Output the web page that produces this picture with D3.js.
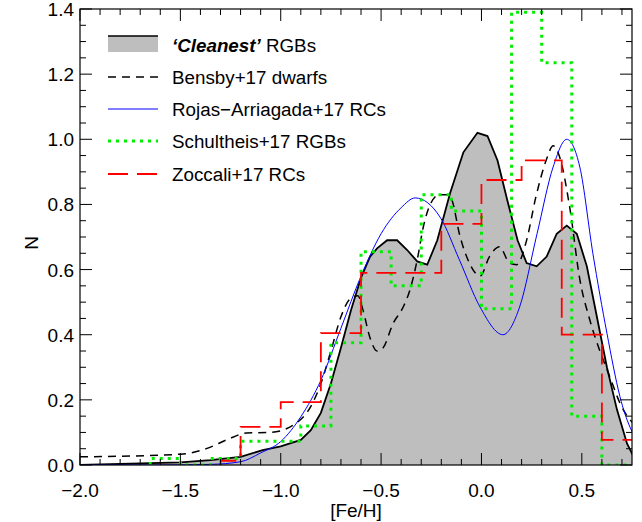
<!DOCTYPE html>
<html><head><meta charset="utf-8">
<script src="https://cdn.jsdelivr.net/npm/d3@7"></script>
<style>body{margin:0;background:#fff}text{font-family:"Liberation Sans",Arial,sans-serif}</style>
</head><body><div id="chart"></div>
<script>
var w=642,h=522;
var margin={l:80,r:10,t:9,b:57};

// 'Cleanest' RGBs (filled)
var cleanX=[-2.0,-1.5,-1.35,-1.2,-1.09,-1.0,-0.9,-0.85,-0.8,-0.75,-0.7,-0.65,-0.6,-0.555,-0.52,-0.47,-0.42,-0.37,-0.32,-0.27,-0.22,-0.156,-0.09,-0.02,0.03,0.08,0.13,0.18,0.225,0.275,0.325,0.375,0.425,0.475,0.525,0.575,0.625,0.675,0.725,0.775];
var cleanY=[0.0,0.008,0.015,0.025,0.046,0.057,0.077,0.107,0.16,0.25,0.36,0.475,0.575,0.64,0.665,0.69,0.69,0.66,0.625,0.615,0.69,0.835,0.96,1.02,1.01,0.935,0.81,0.69,0.62,0.61,0.64,0.71,0.735,0.71,0.61,0.455,0.30,0.17,0.066,0.005];
// Bensby+17 dwarfs
var bensX=[-2.0,-1.5,-1.35,-1.27,-1.17,-1.05,-0.92,-0.85,-0.8,-0.75,-0.7,-0.655,-0.615,-0.59,-0.555,-0.52,-0.49,-0.44,-0.39,-0.355,-0.32,-0.29,-0.255,-0.21,-0.16,-0.145,-0.11,-0.06,-0.007,0.04,0.09,0.14,0.175,0.225,0.27,0.325,0.357,0.39,0.44,0.49,0.54,0.59,0.64,0.69,0.79];
var bensY=[0.025,0.033,0.055,0.077,0.098,0.1,0.13,0.18,0.25,0.35,0.455,0.51,0.52,0.475,0.39,0.35,0.36,0.435,0.485,0.54,0.63,0.73,0.80,0.83,0.83,0.81,0.71,0.62,0.58,0.64,0.67,0.62,0.615,0.69,0.82,0.94,0.98,0.945,0.79,0.57,0.445,0.35,0.27,0.19,0.107];
// Rojas-Arriagada+17 RCs
var rojasX=[-2.0,-1.6,-1.35,-1.2,-1.1,-1.0,-0.9,-0.8,-0.7,-0.6,-0.5,-0.4,-0.33,-0.205,-0.11,-0.007,0.107,0.19,0.277,0.357,0.425,0.49,0.555,0.625,0.69,0.79];
var rojasY=[0.0,0.0,0.002,0.01,0.037,0.072,0.148,0.26,0.42,0.58,0.71,0.79,0.82,0.76,0.63,0.485,0.40,0.485,0.71,0.915,1.0,0.915,0.65,0.405,0.21,0.056];
// Schultheis+17 RGBs histogram (bin edges, values)
var schEdges=[-1.65,-1.5,-1.35,-1.2,-1.05,-0.9,-0.75,-0.6,-0.45,-0.3,-0.15,0.0,0.15,0.3,0.45,0.6,0.75];
var schVals=[0.02,0.0,0.02,0.073,0.073,0.12,0.375,0.655,0.55,0.83,0.78,0.48,1.39,1.235,0.15,0.0];
// Zoccali+17 RCs histogram
var zocEdges=[-1.3,-1.2,-1.0,-0.8,-0.6,-0.4,-0.2,0.0,0.2,0.4,0.6,0.8];
var zocVals=[0.013,0.117,0.193,0.405,0.59,0.59,0.74,0.875,0.935,0.40,0.077];

var xTicks=[-2.0,-1.5,-1.0,-0.5,0.0,0.5];
var yTicks=[0.0,0.2,0.4,0.6,0.8,1.0,1.2,1.4];

var svg=d3.select("#chart").append("svg").attr("width",w).attr("height",h);
var x=d3.scaleLinear().domain([-2.0,0.75]).range([margin.l,w-margin.r]);
var y=d3.scaleLinear().domain([0,1.4]).range([h-margin.b,margin.t]);

svg.append("defs").append("clipPath").attr("id","clip").append("rect")
  .attr("x",x(-2)).attr("y",y(1.4)).attr("width",x(0.75)-x(-2)).attr("height",y(0)-y(1.4));
var g=svg.append("g").attr("clip-path","url(#clip)");

function pts(xs,ys){return xs.map(function(d,i){return [d,ys[i]];});}
function steps(e,v){var p=[];v.forEach(function(d,i){p.push([e[i],d]);p.push([e[i+1],d]);});return p;}
function stepPath(e,v){var p=steps(e,v);p.unshift([e[0],0]);p.push([e[e.length-1],0]);return p;}

var line=d3.line().x(function(d){return x(d[0]);}).y(function(d){return y(d[1]);});
var smooth=d3.line().x(function(d){return x(d[0]);}).y(function(d){return y(d[1]);}).curve(d3.curveMonotoneX);
var area=d3.area().x(function(d){return x(d[0]);}).y0(y(0)).y1(function(d){return y(d[1]);});

var clean=pts(cleanX,cleanY);
g.append("path").attr("d",area(clean)).attr("fill","#bebebe");
g.append("path").attr("d",line(clean)).attr("fill","none").attr("stroke","#000").attr("stroke-width",1.8);
g.append("path").attr("d",smooth(pts(bensX,bensY))).attr("fill","none").attr("stroke","#000").attr("stroke-width",1.5).attr("stroke-dasharray","8,6");
g.append("path").attr("d",smooth(pts(rojasX,rojasY))).attr("fill","none").attr("stroke","#0000ff").attr("stroke-width",1);
g.append("path").attr("d",line(stepPath(schEdges,schVals))).attr("fill","none").attr("stroke","#00ee00").attr("stroke-width",3).attr("stroke-dasharray","3,5");
g.append("path").attr("d",line(stepPath(zocEdges,zocVals))).attr("fill","none").attr("stroke","#ff0000").attr("stroke-width",1.8).attr("stroke-dasharray","20,9");

// frame
svg.append("rect").attr("x",x(-2)).attr("y",y(1.4)).attr("width",x(0.75)-x(-2)).attr("height",y(0)-y(1.4))
  .attr("fill","none").attr("stroke","#000").attr("stroke-width",1.2);

// ticks on all sides
var tk=svg.append("g").attr("stroke","#000").attr("stroke-width",1);
d3.range(-2.0,0.751,0.1).forEach(function(v){
  var major=xTicks.some(function(t){return Math.abs(t-v)<1e-6;}), L=major?12:6;
  tk.append("line").attr("x1",x(v)).attr("x2",x(v)).attr("y1",y(0)).attr("y2",y(0)-L);
  tk.append("line").attr("x1",x(v)).attr("x2",x(v)).attr("y1",y(1.4)).attr("y2",y(1.4)+L);
});
d3.range(0,1.401,0.05).forEach(function(v){
  var major=yTicks.some(function(t){return Math.abs(t-v)<1e-6;}), L=major?12:6;
  tk.append("line").attr("y1",y(v)).attr("y2",y(v)).attr("x1",x(-2)).attr("x2",x(-2)+L);
  tk.append("line").attr("y1",y(v)).attr("y2",y(v)).attr("x1",x(0.75)).attr("x2",x(0.75)-L);
});
function fmt(v){return (v<0?"\u2212":"")+Math.abs(v).toFixed(1);}
svg.selectAll(".xt").data(xTicks).enter().append("text").attr("x",function(d){return x(d);}).attr("y",h-margin.b+32)
  .attr("text-anchor","middle").attr("font-size",19).text(fmt);
svg.selectAll(".yt").data(yTicks).enter().append("text").attr("x",x(-2)-6).attr("y",function(d){return y(d)+7;})
  .attr("text-anchor","end").attr("font-size",19).text(fmt);
svg.append("text").attr("x",(x(-2)+x(0.75))/2).attr("y",h-5).attr("text-anchor","middle").attr("font-size",19).text("[Fe/H]");
svg.append("text").attr("transform","translate(38,"+(y(0.7)+6)+") rotate(-90)").attr("text-anchor","middle").attr("font-size",19).text("N");

// legend
var lg=svg.append("g");
var ly=[45,77,109,141,174], lx0=108, lx1=158, tx=172;
lg.append("rect").attr("x",lx0).attr("y",ly[0]-9).attr("width",lx1-lx0).attr("height",16).attr("fill","#bebebe");
lg.append("line").attr("x1",lx0).attr("x2",lx1).attr("y1",ly[0]-9).attr("y2",ly[0]-9).attr("stroke","#000").attr("stroke-width",1.5);
var t0=lg.append("text").attr("x",tx).attr("y",ly[0]+7).attr("font-size",18.8);
t0.append("tspan").attr("font-weight","bold").attr("font-style","italic").text("\u2018Cleanest\u2019");
t0.append("tspan").text(" RGBs");
var items=[
  {t:"Bensby+17 dwarfs",c:"#000",w:1.5,d:"8,6"},
  {t:"Rojas\u2212Arriagada+17 RCs",c:"#0000ff",w:1,d:null},
  {t:"Schultheis+17 RGBs",c:"#00ee00",w:3,d:"3,5"},
  {t:"Zoccali+17 RCs",c:"#ff0000",w:1.8,d:"20,9"}];
items.forEach(function(d,i){
  var yy=ly[i+1];
  lg.append("line").attr("x1",lx0).attr("x2",lx1).attr("y1",yy).attr("y2",yy).attr("stroke",d.c).attr("stroke-width",d.w).attr("stroke-dasharray",d.d);
  lg.append("text").attr("x",tx).attr("y",yy+7).attr("font-size",18.8).text(d.t);
});
</script></body></html>
